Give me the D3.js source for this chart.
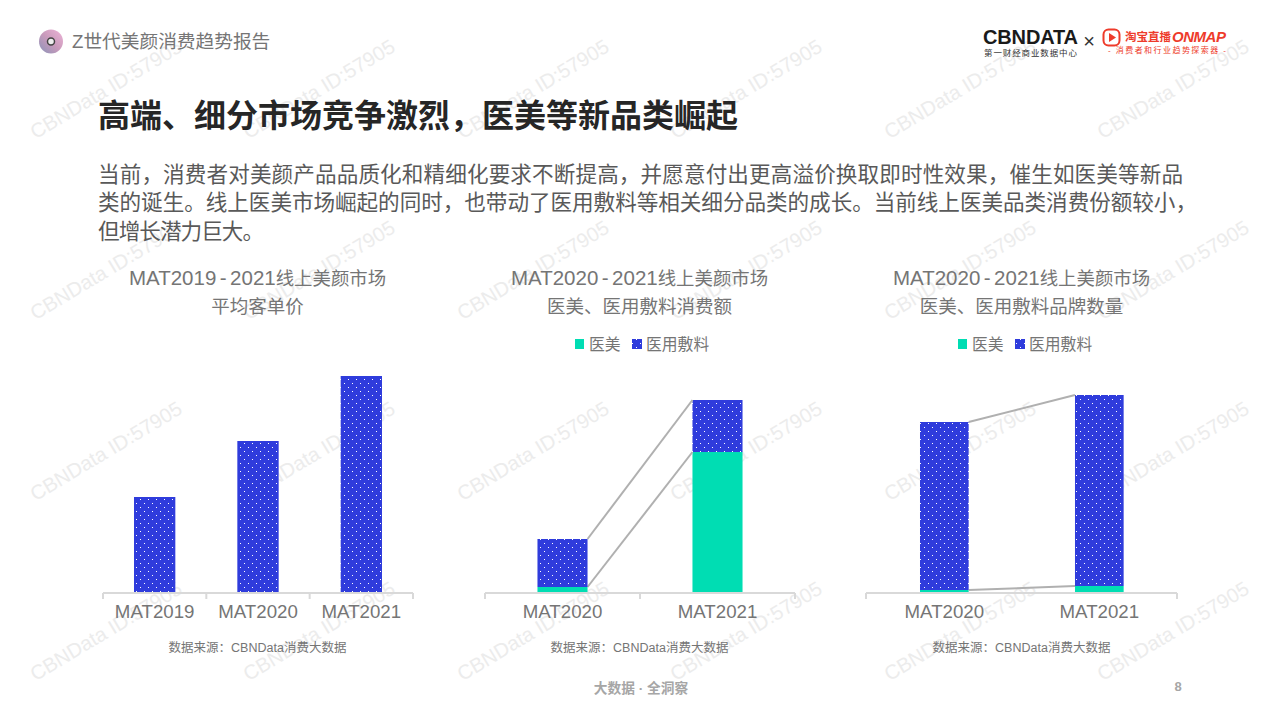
<!DOCTYPE html>
<html>
<head>
<meta charset="utf-8">
<script src="https://cdn.jsdelivr.net/npm/d3@7"></script>
<style>
  html, body { margin: 0; padding: 0; background: #fff; }
  svg { display: block; }
  text { font-family: "Liberation Sans", "Noto Sans CJK SC", sans-serif; }
</style>
</head>
<body>
<svg id="page" width="1280" height="720"></svg>
<script>
const reportName = "Z世代美颜消费趋势报告";
const headline = "高端、细分市场竞争激烈，医美等新品类崛起";
const bodyLines = [
    "当前，消费者对美颜产品品质化和精细化要求不断提高，并愿意付出更高溢价换取即时性效果，催生如医美等新品",
    "类的诞生。线上医美市场崛起的同时，也带动了医用敷料等相关细分品类的成长。当前线上医美品类消费份额较小，",
    "但增长潜力巨大。"
];
const bodyWidths = [1085, 1099, 166];
const sourceNote = "数据来源：CBNData消费大数据";
const marketTitle = "线上美颜市场";
const seriesNames = ["医美", "医用敷料"];

// no value axis in the source, so values are relative bar heights
const priceYears = ["MAT2019", "MAT2020", "MAT2021"];
const priceValues = [96, 152, 217];

const compareYears = ["MAT2020", "MAT2021"];
const spendMedical = [6, 141];
const spendDressing = [48, 52];
const brandMedical = [3, 7];
const brandDressing = [168, 191];

const blue = "#2f3cdc";
const teal = "#00ddb3";
const grey = "#757575";

const svg = d3.select("#page");
const defs = svg.append("defs");

const dots = defs.append("pattern")
    .attr("id", "dots")
    .attr("width", 8).attr("height", 8)
    .attr("patternUnits", "userSpaceOnUse");
dots.append("rect").attr("width", 8).attr("height", 8).attr("fill", blue);
dots.append("rect").attr("x", 4).attr("y", 3).attr("width", 1).attr("height", 1).attr("fill", "#fff");
dots.append("rect").attr("x", 0).attr("y", 7).attr("width", 1).attr("height", 1).attr("fill", "#fff");

const discFill = defs.append("linearGradient").attr("id", "disc")
    .attr("x1", 0).attr("y1", 1).attr("x2", 1).attr("y2", 0);
discFill.append("stop").attr("offset", 0).attr("stop-color", "#8a93b8");
discFill.append("stop").attr("offset", 0.5).attr("stop-color", "#c99abb");
discFill.append("stop").attr("offset", 1).attr("stop-color", "#eeb4d8");

function label(parent, x, y, str, size, fill, anchor, weight) {
    return parent.append("text")
        .attr("x", x).attr("y", y)
        .attr("dy", "0.35em")
        .attr("font-size", size)
        .attr("fill", fill)
        .attr("text-anchor", anchor || "start")
        .attr("font-weight", weight || "normal")
        .text(str);
}

// watermark goes under everything
const wmX = [106, 319, 533, 746, 960, 1173];
const wmY = [89, 270, 451, 631];
const wm = svg.append("g");
wmY.forEach(y => wmX.forEach(x => {
    wm.append("text")
        .attr("transform", `translate(${x},${y}) rotate(-31)`)
        .attr("text-anchor", "middle")
        .attr("dy", "0.35em")
        .attr("font-size", 20.2)
        .attr("fill", "#ececec")
        .text("CBNData ID:57905");
}));

// header
svg.append("circle").attr("cx", 51).attr("cy", 41.5).attr("r", 12).attr("fill", "url(#disc)");
svg.append("circle").attr("cx", 51).attr("cy", 41.5).attr("r", 3.5).attr("fill", "#eee").attr("stroke", "#444").attr("stroke-width", 1.5);
label(svg, 72, 41, reportName, 18.7, grey);

// logos
label(svg, 983, 36.5, "CBNDATA", 20, "#1a1a1a", "start", "bold").attr("textLength", 95);
label(svg, 984, 53, "第一财经商业数据中心", 8.5, "#333").attr("textLength", 93);
label(svg, 1089, 41, "×", 20, "#333", "middle");
svg.append("rect").attr("x", 1103.5).attr("y", 29.5).attr("width", 16).attr("height", 16).attr("rx", 5)
    .attr("fill", "none").attr("stroke", "#ee3b2b").attr("stroke-width", 2);
svg.append("path").attr("d", d3.line()([[1109, 33], [1109, 42], [1116, 37.5]])).attr("fill", "#ee3b2b");
label(svg, 1125, 37, "淘宝直播", 11.5, "#ee3b2b", "start", "bold");
label(svg, 1172, 37, "ONMAP", 15, "#ee3b2b", "start", "bold").attr("font-style", "italic").attr("textLength", 54);
label(svg, 1108, 50, "- 消费者和行业趋势探索器 -", 8, "#ee3b2b").attr("textLength", 118);

// headline and body
label(svg, 98, 116, headline, 32, "#262626", "start", "bold");
bodyLines.forEach((line, i) => label(svg, 98, 174 + i * 28.5, line, 21.6, "#595959").attr("textLength", bodyWidths[i]));

const baseY = 593;
const y = d3.scaleLinear().domain([0, 220]).range([baseY, baseY - 220]);

function axis(x, midTicks) {
    const g = svg.append("g").attr("transform", `translate(0,${baseY})`);
    g.call(d3.axisBottom(x).tickSize(0).tickPadding(12))
        .call(s => s.select(".domain").remove());
    g.selectAll("text")
        .attr("font-size", 18.7)
        .attr("font-family", null)
        .attr("fill", grey);
    const [x0, x1] = x.range();
    g.append("line").attr("x1", x0).attr("x2", x1).attr("stroke", "#d9d9d9").attr("stroke-width", 2);
    const edges = midTicks ? d3.range(x.domain().length + 1).map(i => x0 + i * x.step()) : [x0, x1];
    g.selectAll("line.edge").data(edges).join("line")
        .attr("class", "edge")
        .attr("x1", d => d).attr("x2", d => d)
        .attr("y1", 0).attr("y2", 6)
        .attr("stroke", "#d9d9d9").attr("stroke-width", 2);
}

function stackedChart(x, medical, dressing) {
    const rows = compareYears.map((c, i) => ({ cat: c, [seriesNames[0]]: medical[i], [seriesNames[1]]: dressing[i] }));
    const layers = d3.stack().keys(seriesNames)(rows);

    layers.forEach((layer, n) => {
        svg.append("g").selectAll("rect").data(layer).join("rect")
            .attr("x", d => x(d.data.cat))
            .attr("width", x.bandwidth())
            .attr("y", d => y(d[1]))
            .attr("height", d => y(d[0]) - y(d[1]))
            .attr("fill", n === 0 ? teal : "url(#dots)");

        // connector between the tops of the two bars
        svg.append("line")
            .attr("x1", x(compareYears[0]) + x.bandwidth())
            .attr("y1", y(layer[0][1]))
            .attr("x2", x(compareYears[1]))
            .attr("y2", y(layer[1][1]))
            .attr("stroke", "#b0b0b0")
            .attr("stroke-width", 2);
    });
}

function legend(tealX, blueX) {
    svg.append("rect").attr("x", tealX).attr("y", 339).attr("width", 9).attr("height", 10).attr("fill", teal);
    label(svg, tealX + 14, 344, seriesNames[0], 15.8, grey);
    svg.append("rect").attr("x", blueX).attr("y", 339).attr("width", 10).attr("height", 10).attr("fill", "url(#dots)");
    label(svg, blueX + 14, 344, seriesNames[1], 15.8, grey);
}

function titles(cx, fromYear, toYear, second) {
    // the latin part of the source title is set larger than the chinese, with a long dash gap
    const first = label(svg, cx, 279, null, 18.4, grey, "middle");
    first.append("tspan").attr("font-size", 20.5).text(fromYear);
    first.append("tspan").attr("font-size", 20.5).attr("dx", 3.5).text("-");
    first.append("tspan").attr("font-size", 20.5).attr("dx", 3.5).text(toYear);
    first.append("tspan").text(marketTitle);
    label(svg, cx, 307, second, 18.5, grey, "middle");
    label(svg, cx, 648, sourceNote, 12.5, grey, "middle");
}

// left: average order price
const xPrice = d3.scaleBand().domain(priceYears).range([103, 413]).paddingInner(0.6).paddingOuter(0.3);
svg.append("g").selectAll("rect").data(priceValues).join("rect")
    .attr("x", (d, i) => xPrice(priceYears[i]))
    .attr("width", xPrice.bandwidth())
    .attr("y", d => y(d))
    .attr("height", d => baseY - y(d))
    .attr("fill", "url(#dots)");
axis(xPrice, true);
titles(257.5, "MAT2019", "2021", "平均客单价");

// middle: spend
const xSpend = d3.scaleBand().domain(compareYears).range([485, 795]).paddingInner(0.677).paddingOuter(0.3385);
stackedChart(xSpend, spendMedical, spendDressing);
axis(xSpend, true);
titles(639.5, "MAT2020", "2021", "医美、医用敷料消费额");
legend(575, 632);

// right: brand counts
const xBrand = d3.scaleBand().domain(compareYears).range([866, 1177]).paddingInner(0.686).paddingOuter(0.3463).align(0.503);
stackedChart(xBrand, brandMedical, brandDressing);
axis(xBrand, false);
titles(1021.5, "MAT2020", "2021", "医美、医用敷料品牌数量");
legend(958, 1015);

// footer
label(svg, 641, 688, "大数据 · 全洞察", 13.7, "#a6a6a6", "middle", "bold");
label(svg, 1178, 686, "8", 13, "#a6a6a6", "middle", "bold");
</script>
</body>
</html>
